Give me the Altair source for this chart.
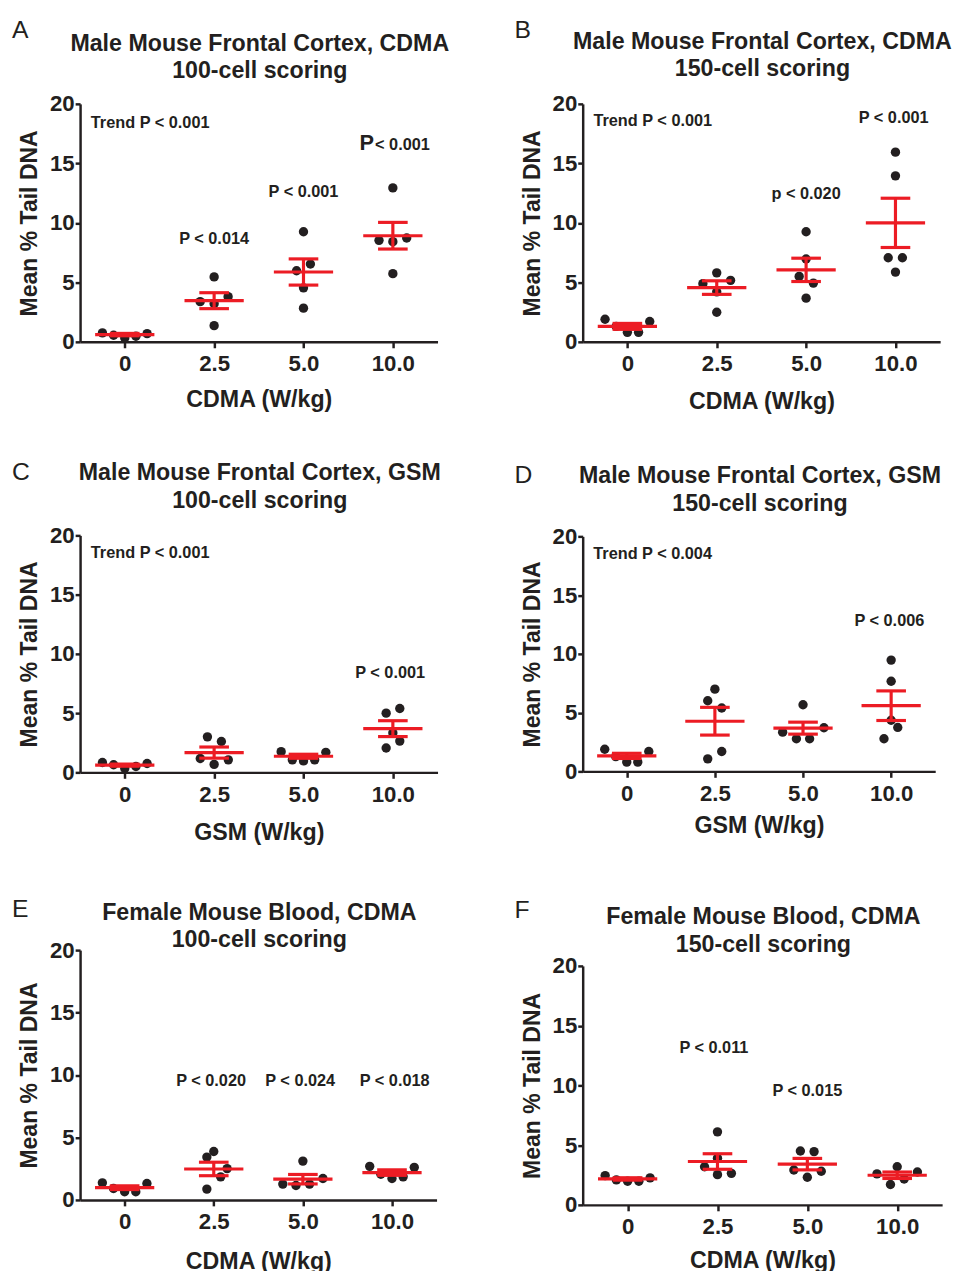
import altair as alt
import pandas as pd

DOSE_LABELS = ["0", "2.5", "5.0", "10.0"]
Y_TICKS = [0, 5, 10, 15, 20]

# ---------------- Panel A ----------------
A_VALUES = [[0.75, 0.55, 0.33, 0.47, 0.69], [3.38, 3.20, 3.80, 5.46, 1.36],
            [9.25, 5.98, 6.54, 4.54, 2.83], [12.94, 8.53, 8.42, 8.73, 5.73]]
A_SLOTS = [[-2, -1, 0, 1, 2], [-1.25, 0, 1.25, 0, 0], [0, -0.62, 0.62, 0, 0], [0, -1.24, 0, 1.24, 0]]
A_MEAN = [0.61, 3.46, 5.87, 8.92]
A_SEM = [0.10, 0.67, 1.10, 1.12]
A_TREND = (18.4, "Trend P < 0.001")
A_NOTES = [(1.0, 8.6, "P < 0.014"), (2.0, 12.6, "P < 0.001")]
A_BIGP = (3.0, 16.1, "P", "< 0.001")

# ---------------- Panel B ----------------
B_VALUES = [[1.90, 1.30, 0.80, 0.80, 1.71], [4.89, 5.80, 5.17, 4.20, 2.49],
            [9.25, 6.96, 5.50, 4.94, 3.67], [15.94, 13.95, 7.07, 7.07, 5.86]]
B_SLOTS = [[-2, -1, 0, 1, 2], [-1.24, 0, 1.24, 0, 0], [0, 0, -0.62, 0.65, 0], [0, 0, -0.65, 0.62, 0]]
B_MEAN = [1.30, 4.56, 6.05, 10.0]
B_SEM = [0.25, 0.57, 0.98, 2.07]
B_TREND = (18.56, "Trend P < 0.001")
B_NOTES = [(2.0, 12.4, "p < 0.020"), (2.98, 18.8, "P < 0.001")]

# ---------------- Panel C ----------------
C_VALUES = [[0.83, 0.64, 0.33, 0.50, 0.75], [3.00, 2.61, 1.17, 1.06, 0.67],
            [1.75, 1.06, 0.97, 1.06, 1.69], [5.00, 5.39, 3.33, 2.64, 2.06]]
C_SLOTS = [[-2, -1, 0, 1, 2], [-0.6, 0.65, -1.24, 1.27, 0], [-2, -1, 0, 1, 2], [-0.6, 0.62, 0, 0.62, -0.6]]
C_MEAN = [0.61, 1.67, 1.36, 3.69]
C_SEM = [0.09, 0.47, 0.17, 0.67]
C_TREND = (18.5, "Trend P < 0.001")
C_NOTES = [(2.97, 8.4, "P < 0.001")]

# ---------------- Panel D ----------------
D_VALUES = [[1.88, 1.26, 0.79, 0.79, 1.69], [7.00, 6.01, 5.39, 1.69, 1.07],
            [5.67, 3.34, 3.71, 2.78, 2.78], [9.47, 7.67, 4.35, 3.74, 2.78]]
D_SLOTS = [[-2, -1, 0, 1, 2], [0, -0.65, 0.62, 0.62, -0.65], [0, -1.85, 1.9, -0.6, 0.6], [0, 0, 0, 0.6, -0.65]]
D_MEAN = [1.32, 4.27, 3.68, 5.59]
D_SEM = [0.22, 1.18, 0.51, 1.26]
D_TREND = (18.5, "Trend P < 0.004")
D_NOTES = [(2.98, 12.8, "P < 0.006")]

# ---------------- Panel E ----------------
E_VALUES = [[1.37, 0.92, 0.66, 0.66, 1.32], [3.88, 3.43, 2.51, 1.85, 0.87],
            [3.11, 1.72, 1.27, 1.16, 1.27], [2.69, 2.61, 2.06, 1.72, 1.85]]
E_SLOTS = [[-2, -1, 0, 1, 2], [0, -0.62, 1.2, 0.62, -0.62], [0, 1.8, -1.8, -0.62, 0.6], [-2, 2, -1, 0, 1]]
E_MEAN = [0.98, 2.48, 1.66, 2.19]
E_SEM = [0.15, 0.54, 0.38, 0.22]
E_NOTES = [(0.97, 9.55, "P < 0.020"), (1.97, 9.55, "P < 0.024"), (3.03, 9.55, "P < 0.018")]

# ---------------- Panel F ----------------
F_VALUES = [[2.45, 2.09, 1.98, 1.98, 2.26], [6.11, 3.91, 3.19, 2.64, 2.53],
            [4.51, 4.46, 2.92, 2.81, 2.31], [3.19, 2.59, 2.75, 2.17, 1.71]]
F_SLOTS = [[-2, -1, 0, 1, 2], [0, 0, -1.15, 1.24, 0], [-0.62, 0.6, -1.2, 1.24, 0], [0, -1.8, 1.8, 0.62, -0.6]]
F_MEAN = [2.17, 3.63, 3.41, 2.48]
F_SEM = [0.10, 0.65, 0.48, 0.27]
F_NOTES = [(0.96, 13.1, "P < 0.011"), (2.0, 9.5, "P < 0.015")]

FONT = "Liberation Sans"
INK = "#231f20"
RED = "#ec1c24"
SLOT = 0.125
TREND_X = -0.38


def panel(letter, title, xtitle, values, slots, means, sems, trend, notes, lay, bigp=None):
    pts = pd.DataFrame([{"g": gi, "slot": s, "v": v}
                        for gi, (vs, ss) in enumerate(zip(values, slots))
                        for v, s in zip(vs, ss)])
    summ = pd.DataFrame({"g": list(range(4)), "mean": means, "sem": sems})
    xs = alt.Scale(domain=[-0.5, 3.5], nice=False, zero=False)
    ys = alt.Scale(domain=[0, 20], nice=False, zero=True)
    label_expr = "[" + ",".join(f"'{d}'" for d in DOSE_LABELS) + "][datum.value]"
    common = dict(grid=False, domainColor=INK, domainWidth=2.5, tickColor=INK, tickWidth=2.5,
                  labelFont=FONT, labelFontSize=22.5, labelFontWeight="bold", labelColor=INK,
                  titleFont=FONT, titleFontWeight="bold", titleColor=INK)
    xaxis = alt.Axis(values=[0, 1, 2, 3], labelExpr=label_expr, title=xtitle, tickSize=6,
                     labelPadding=5, titleFontSize=23.5, titlePadding=lay["xpad"],
                     labelFlush=False, **common)
    yaxis = alt.Axis(values=Y_TICKS, format="d", title="Mean % Tail DNA", tickSize=5,
                     labelPadding=1, titleFontSize=23.3, titlePadding=8, **common)

    def X(f):
        return alt.X(f, type="quantitative", scale=xs, axis=xaxis)

    def Y(f):
        return alt.Y(f, type="quantitative", scale=ys, axis=yaxis)

    layers = []
    layers.append(
        alt.Chart(pts).transform_calculate(xp=f"datum.g + datum.slot * {SLOT}")
        .mark_circle(size=90, color=INK, opacity=1)
        .encode(x=X("xp"), y=Y("v"))
    )
    err = alt.Chart(summ).transform_calculate(lo="datum.mean - datum.sem", hi="datum.mean + datum.sem")
    layers.append(err.mark_rule(color=RED, strokeWidth=3.2).encode(x=X("g"), y=Y("lo"), y2=alt.Y2("hi")))
    layers.append(err.mark_tick(color=RED, size=30, thickness=3.2, orient="horizontal", opacity=1).encode(x=X("g"), y=Y("lo")))
    layers.append(err.mark_tick(color=RED, size=30, thickness=3.2, orient="horizontal", opacity=1).encode(x=X("g"), y=Y("hi")))
    layers.append(err.mark_tick(color=RED, size=60, thickness=3.2, orient="horizontal", opacity=1).encode(x=X("g"), y=Y("mean")))

    txt = dict(font=FONT, fontSize=16.5, fontWeight="bold", color=INK, baseline="middle")
    if trend is not None:
        tdf = pd.DataFrame({"x": [TREND_X], "y": [trend[0]], "t": [trend[1]]})
        layers.append(alt.Chart(tdf).mark_text(align="left", **txt).encode(x=X("x"), y=Y("y"), text="t:N"))
    if notes:
        ndf = pd.DataFrame({"x": [n[0] for n in notes], "y": [n[1] for n in notes], "t": [n[2] for n in notes]})
        layers.append(alt.Chart(ndf).mark_text(align="center", **txt).encode(x=X("x"), y=Y("y"), text="t:N"))
    if bigp is not None:
        bdf = pd.DataFrame({"x": [bigp[0]], "y": [bigp[1]], "p": [bigp[2]], "t": [bigp[3]]})
        layers.append(alt.Chart(bdf).mark_text(align="right", baseline="alphabetic", dx=-19, font=FONT,
                                               fontSize=22, fontWeight="bold", color=INK)
                      .encode(x=X("x"), y=Y("y"), text="p:N"))
        layers.append(alt.Chart(bdf).mark_text(align="left", baseline="alphabetic", dx=-18, font=FONT,
                                               fontSize=16.5, fontWeight="bold", color=INK)
                      .encode(x=X("x"), y=Y("y"), text="t:N"))
    # panel letter
    ldf = pd.DataFrame({"t": [letter]})
    layers.append(alt.Chart(ldf).mark_text(align="left", baseline="alphabetic", font=FONT, fontSize=25,
                                           color=INK)
                  .encode(x=alt.value(lay["lx"]), y=alt.value(lay["ly"]), text="t:N"))
    # panel title (two lines)
    hdf = pd.DataFrame({"t": ["\n".join(title)]})
    layers.append(alt.Chart(hdf).mark_text(align="center", baseline="alphabetic", font=FONT, fontSize=23.5,
                                           fontWeight="bold", color=INK, lineBreak="\n", lineHeight=28)
                  .encode(x=alt.value(lay["w"] / 2 + 1), y=alt.value(lay["ty"]), text="t:N"))

    return alt.layer(*layers).properties(width=lay["w"], height=lay["h"])


pA = panel("A", ["Male Mouse Frontal Cortex, CDMA", "100-cell scoring"], "CDMA (W/kg)",
           A_VALUES, A_SLOTS, A_MEAN, A_SEM, A_TREND, A_NOTES,
           dict(w=362, h=241, lx=-69, ly=-67, ty=-54, xpad=12.5), bigp=A_BIGP)
pB = panel("B", ["Male Mouse Frontal Cortex, CDMA", "150-cell scoring"], "CDMA (W/kg)",
           B_VALUES, B_SLOTS, B_MEAN, B_SEM, B_TREND, B_NOTES,
           dict(w=362, h=241, lx=-69, ly=-67, ty=-56, xpad=14.5))
pC = panel("C", ["Male Mouse Frontal Cortex, GSM", "100-cell scoring"], "GSM (W/kg)",
           C_VALUES, C_SLOTS, C_MEAN, C_SEM, C_TREND, C_NOTES,
           dict(w=362, h=240, lx=-69, ly=-56, ty=-56, xpad=15.5))
pD = panel("D", ["Male Mouse Frontal Cortex, GSM", "150-cell scoring"], "GSM (W/kg)",
           D_VALUES, D_SLOTS, D_MEAN, D_SEM, D_TREND, D_NOTES,
           dict(w=357, h=238, lx=-69, ly=-54, ty=-54, xpad=9.5))
pE = panel("E", ["Female Mouse Blood, CDMA", "100-cell scoring"], "CDMA (W/kg)",
           E_VALUES, E_SLOTS, E_MEAN, E_SEM, None, E_NOTES,
           dict(w=361, h=253, lx=-69, ly=-34, ty=-31, xpad=16.5))
pF = panel("F", ["Female Mouse Blood, CDMA", "150-cell scoring"], "CDMA (W/kg)",
           F_VALUES, F_SLOTS, F_MEAN, F_SEM, None, F_NOTES,
           dict(w=364, h=242, lx=-69, ly=-49, ty=-42, xpad=10.5))

left_col = alt.vconcat(alt.vconcat(pA, pC, spacing=50), pE, spacing=53)
right_col = alt.vconcat(alt.vconcat(pB, pD, spacing=51), pF, spacing=61)

chart = alt.hconcat(left_col, right_col, spacing=66).properties(
    padding={"left": 4, "top": 2, "right": 0, "bottom": 0}
).configure_view(stroke=None)

chart.save("out.html", embed_options={"renderer": "svg", "actions": False})
